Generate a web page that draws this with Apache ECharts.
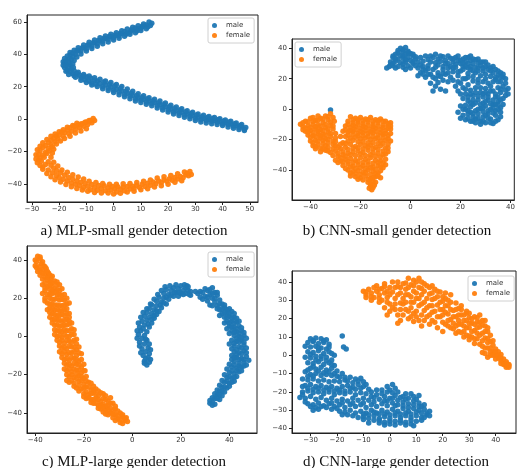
<!DOCTYPE html>
<html>
<head>
<meta charset="utf-8">
<script src="https://cdn.jsdelivr.net/npm/echarts@6/dist/echarts.min.js"></script>
<style>
html, body { margin: 0; padding: 0; background: #fff; }
#container { width: 518px; height: 468px; }
</style>
</head>
<body>
<div id="container"></div>
<script>
// tick labels
const xTicksA = [-30, -20, -10, 0, 10, 20, 30, 40, 50]
const yTicksA = [-40, -20, 0, 20, 40, 60]
const xTicksB = [-40, -20, 0, 20, 40]
const yTicksB = [-40, -20, 0, 20, 40]
const xTicksC = [-40, -20, 0, 20, 40]
const yTicksC = [-40, -20, 0, 20, 40]
const xTicksD = [-30, -20, -10, 0, 10, 20, 30, 40]
const yTicksD = [-40, -30, -20, -10, 0, 10, 20, 30, 40]

const seriesNames = ['male', 'female']
const captions = [
  'a) MLP-small gender detection',
  'b) CNN-small gender detection',
  'c) MLP-large gender detection',
  'd) CNN-large gender detection'
]

// a) MLP-small
const maleA = [[14,59.2],[13.5,57.8],[12,58.1],[12.5,56.9],[11,57.3],[10,56.0],[10.5,57.4],[9,55.8],[8,56.2],[8.5,54.4],[7,55.1],[6,53.6],[6.5,55.0],[5,53.2],[4,54.1],[4.5,52.4],[3,52.9],[2,51.3],[2.5,53.0],[1,51.8],[0,50.3],[0.5,52.0],[-1,50.9],[-2,49.3],[-1.5,51.1],[-3,49.8],[-4,48.1],[-3.5,50.0],[-5,48.4],[-6,46.6],[-5.5,48.6],[-7,47.2],[-8,45.0],[-7.5,47.1],[-9,45.9],[-10,43.4],[-9.5,45.6],[-11,44.1],[-12,42.0],[-11.5,44.0],[-13,42.5],[-14,40.0],[-13.5,42.1],[-15,40.8],[-15,38.3],[-16,39.6],[-16.5,37.2],[-15.5,36.8],[-17.5,36.0],[-16.5,35.0],[-18,34.5],[-16,33.8],[-17.5,33.0],[-16.5,32.2],[-18,31.8],[-15.5,31.0],[-17,30.2],[-16,29.3],[-14.5,29.8],[-15,28.0],[-13.5,28.2],[-14.5,26.8],[-12.5,27.1],[-12,25.5],[-11,26.6],[-10.5,24.2],[-10,26.0],[-9,23.6],[-8.5,25.4],[-8,22.3],[-7,24.2],[-6.5,21.6],[-6,23.5],[-5,22.0],[-4,20.2],[-3.5,22.8],[-3,21.0],[-2,19.1],[-1.5,21.5],[-1,19.8],[0,17.8],[0.5,20.6],[1,18.5],[2,16.6],[2.5,19.0],[3,17.3],[4,15.2],[4.5,17.2],[5,16.0],[6,14.1],[6.5,16.0],[7,14.8],[8,12.6],[8.5,14.6],[9,13.2],[10,11.6],[10.5,13.5],[11,12.2],[12,10.6],[12.5,12.6],[13,11.2],[14,9.6],[14.5,11.4],[15,10.2],[16,8.2],[16.5,10.1],[17,8.8],[18,7.0],[18.5,9.0],[19,7.6],[20,5.6],[20.5,7.6],[21,6.3],[22,4.6],[22.5,6.6],[23,5.2],[24,3.6],[24.5,5.6],[25,4.2],[26,2.6],[26.5,4.6],[27,3.2],[28,1.6],[28.5,3.5],[29,2.2],[30,0.5],[30.5,2.6],[31,1.2],[32,-0.4],[32.5,1.5],[33,0.3],[34,-0.9],[34.5,1.0],[35,-0.2],[36,-1.3],[36.5,0.4],[37,-0.8],[38,-1.9],[38.5,-0.2],[39,-1.4],[40,-2.8],[40.5,-1.2],[41,-2.3],[42,-3.3],[42.5,-1.8],[43,-3.0],[44,-4.2],[44.5,-2.8],[45,-3.9],[46,-5.2],[46.5,-3.9],[47,-4.8],[48,-6.2],[48.5,-5.2],
  [13,60],[11,58.8],[9,57.6],[7,56.8],[5,55.6],[3,54.6],[1,53.4],[-1,52.4],[-3,51.4],[-5,50.2],[-7,48.8],[-9,47.4],[-11,45.8],[-13,44.0],[-14.5,42.6],[-16,41.2],[-17,39.0],[-18,37.5],[-18.5,35.5],[-18.5,33.2],[-17.5,29.6],[-16.5,27.6],[-14,25.8],[-12,24.0],[-10,22.6],[-8,21.0],[-6,20.2],[-4,18.8],[-2,17.6],[0,16.4],[2,15.0],[4,13.8],[6,12.6],[8,11.2],[10,10.2],[12,9.2],[14,8.2],[16,6.8],[18,5.6],[20,4.4],[22,3.2],[24,2.2],[26,1.2],[28,0.2],[30,-0.8],[32,-1.8],[34,-2.4],[36,-2.8],[38,-3.4],[40,-4.0],[42,-4.8],[44,-5.6],[46,-6.4],[48,-7.0],
  [12,55.8],[10,54.8],[8,53.4],[6,52.4],[4,51.2],[2,50.0],[0,48.8],[-2,47.6],[-4,46.6],[-6,45.0],[-8,43.6],[-10,42.0],[-12,40.2],[-13.5,38.4],[-14.5,36.2],[-15,34.0],[-14.8,31.8],[-13,29.0],[-11,27.6],[-9,26.6],[-7,25.6],[-5,24.6],[-3,23.6],[-1,22.6],[1,21.4],[3,20.2],[5,18.6],[7,17.2],[9,15.6],[11,14.4],[13,13.2],[15,12.2],[17,11.2],[19,10.0],[21,8.6],[23,7.4],[25,6.4],[27,5.2],[29,4.2],[31,3.2],[33,2.4],[35,1.6],[37,1.0],[39,0.2],[41,-0.6],[43,-1.4],[45,-2.4],[47,-3.4]]
const femaleA = [[-7,-0.8],[-8,-2.2],[-8.5,-0.9],[-9.5,-3.4],[-10,-1.8],[-11,-4.4],[-11.5,-2.8],[-12.5,-5.2],[-13,-3.6],[-14,-6.3],[-14.5,-4.6],[-15.5,-7.5],[-16,-5.4],[-16.5,-9.0],[-17,-6.8],[-18,-8.2],[-18.5,-10.6],[-19,-7.9],[-20,-9.8],[-20.5,-12.2],[-21,-10.4],[-21.5,-14.0],[-22,-11.8],[-23,-13.2],[-23,-16.0],[-24,-14.4],[-24,-18.2],[-25,-16.3],[-25,-20.5],[-26,-17.6],[-26,-22.4],[-27,-19.6],[-27.5,-21.8],[-27,-24.0],[-26.5,-26.0],[-27.5,-25.2],[-25.5,-23.5],[-24.5,-21.2],[-23.5,-19.5],[-22.5,-17.0],[-25,-28.0],[-26,-29.6],[-24,-26.3],[-24,-31.5],[-23,-28.5],[-22.5,-33.2],[-22,-30.2],[-21,-34.8],[-21,-31.8],[-20,-36.0],[-19.5,-33.2],[-18.5,-37.2],[-18,-34.6],[-17,-38.3],[-16.5,-36.0],[-15.5,-39.5],[-15,-37.2],[-14,-40.2],[-13.5,-38.2],[-12.5,-41.0],[-12,-39.0],[-11,-42.3],[-10.5,-39.8],[-9.5,-41.4],[-8.5,-43.6],[-8,-40.4],[-7,-42.2],[-6,-44.0],[-5.5,-41.0],[-4.5,-42.8],[-3.5,-41.2],[-3,-44.3],[-2,-42.4],[-1,-43.8],[-0.5,-41.6],[0.5,-43.0],[1,-45.0],[1.5,-41.8],[2.5,-43.4],[3.5,-42.0],[4,-44.2],[5,-41.6],[6,-43.2],[7,-41.4],[7.5,-42.8],[8.5,-40.8],[9.5,-42.2],[10.5,-40.2],[11.5,-41.6],[12.5,-39.6],[13.5,-40.8],[14.5,-38.8],[15.5,-40.0],[16.5,-38.2],[17.5,-39.2],[18.5,-37.4],[19.5,-38.4],[20.5,-36.8],[21.5,-37.8],[22.5,-36.0],[23.5,-37.0],[24.5,-35.4],[25.5,-36.2],[26.5,-34.4],[27.5,-35.0],[28.5,-34.2],[27,-33.4],
  [-7.5,0.3],[-9,-0.8],[-10.5,-2.0],[-12,-3.0],[-13.5,-2.6],[-15,-4.0],[-17,-5.0],[-18.5,-6.6],[-20,-7.8],[-21.5,-9.2],[-23,-10.6],[-24.5,-12.6],[-26,-14.6],[-27,-16.8],[-28,-19.0],[-28.5,-22.0],[-28.5,-24.6],[-28,-27.0],[-27,-28.6],[-26,-31.0],[-24.5,-33.6],[-23,-35.6],[-21.5,-37.4],[-19.5,-38.8],[-17.5,-40.4],[-15.5,-41.8],[-13.5,-42.8],[-11.5,-43.8],[-9.5,-44.6],[-7,-45.4],[-4.5,-45.6],[-2,-45.6],[0,-46.2],[2.5,-45.8],[5,-45.0],[7.5,-44.6],[10,-43.6],[12.5,-43.0],[15,-42.0],[17.5,-41.2],[20,-40.2],[22.5,-39.0],[25,-38.0],
  [-10,-6.0],[-12,-7.4],[-14,-8.6],[-16,-10.6],[-18,-12.0],[-19.5,-13.6],[-21,-15.4],[-22,-18.6],[-22.5,-21.0],[-23,-23.6],[-22,-26.6],[-20.5,-29.0],[-19,-31.4],[-17,-32.8],[-15,-34.4],[-13,-35.8],[-11,-37.0],[-9,-38.4],[-6.5,-39.2],[-4,-39.8],[-1.5,-40.2],[1,-40.2],[3.5,-40.0],[6,-39.8],[8.5,-39.2],[11,-38.4],[13.5,-37.6],[16,-36.4],[18.5,-35.6],[21,-34.8],[23.5,-33.8],[26,-32.6],[28,-32.4]]

// b) CNN-small
const maleB = [[-4,40],[-2,40.5],[-3,38],[-5,38.5],[-1,38],[-6,36],[-4,35.5],[-2,36],[0,36.5],[-7,34],[-5,33],[-3,33.5],[-1,34],[1,35],[-8,31],[-6,31.5],[-4,30.5],[-2,31],[0,32],[2,33],[-8.5,28],[-9.5,27],[-7,28.5],[-5,28],[-3,27.5],[-1,28.5],[1,30],[3,31],[4,34],[6,35],[5,31.5],[7,32.5],[9,34],[11,33],[10,30.5],[12,31.5],[13,34.5],[14,32],[15,30],[16,33.5],[17,31],[18,34],[19,32],[20,30],[21,33],[22,31],[23,34],[24,32],[25,30],[26,32.5],[27,30.5],[28,28.5],[29,31],[24,28],[26,27.5],[3,27],[5,28],[4,24],[6,25.5],[7,28.5],[8,23],[9,26],[10,27.5],[11,24],[12,21.5],[13,26],[14,23],[15,27],[16,21],[17,24.5],[18,27.5],[19,22],[20,25],[21,28],[22,20],[23,23.5],[24,26],[25,21.5],[26,24],[27,27],[28,22],[29,25],[30,23],[30,20],[31,26],[32,21.5],[33,24],[34,19.5],[35,22.5],[36,18],[37,21],[33,18],[31,17],[6,21],[3,22],[8,17],[10,15],[12,13],[11,17.5],[14,12],[9,12],[18,15],[20,17],[19,12],[21,14],[22,10],[23,16],[24,12.5],[25,9],[26,14],[27,17],[28,11],[29,8],[30,13.5],[31,10],[32,15],[33,12],[34,8],[35,14],[36,11],[37,15],[38,12.5],[39,13.5],[37,7],[35,5],[33,3],[31,6],[29,4],[27,6],[25,3],[23,5.5],[21,7],[20,2],[22,0],[24,1.5],[26,-1],[28,0.5],[30,2],[32,0],[34,-1],[36,1],[37,3],[19,-2],[21,-4],[20,-6],[23,-3],[22,-7],[25,-5],[24,-8],[27,-3],[26,-6.5],[28,-8],[29,-5],[30,-9],[31,-3],[32,-6.5],[33,-9.5],[34,-4],[35,-7],[36,-2],[24,-2],[29,-1.5],[-32,-0.5],
  [-3,39],[-5,37],[-1,37],[-7,35],[-3,35],[1,36],[-6,33],[-2,32.5],[2,34.5],[-7,30],[-3,29.5],[1,31],[-8,29],[-6,27],[-2,26],[0,27],[2,28.5],[4,29],[5,26],[7,26.5],[8,31],[8,35],[10,36],[12,35],[11,29],[13,28],[14,30],[15,35],[16,28],[17,33],[18,29.5],[19,35],[20,32],[21,30],[22,34],[22,28],[23,30],[25,33],[24,35],[27,33],[28,31],[30,28],[30,31],[31,29],[32,27],[33,28],[34,26],[35,25],[36,24],[37,23],[38,20],[38,17],[36,21],[34,21],[32,25],[29,27],[27,25],[25,25],[23,27],[21,26],[19,24.5],[17,27],[15,24],[13,23.5],[11,22],[9,21],[7,23],[5,23],[10,20],[13,19],[15,18],[17,19],[19,18],[21,20],[23,21],[25,18.5],[27,19.5],[29,18],[35,18],[36,13],[38,9],[39,10],[34,10],[32,12],[30,11],[28,14],[26,11],[24,10],[22,13],[20,10],[23,8],[25,6],[27,8.5],[29,10],[31,8],[33,6],[35,8],[36,6],[34,3],[32,3.5],[30,5],[28,3],[26,4],[24,4],[22,2.5],[21,0],[23,-1],[25,-3],[27,0],[29,1],[31,-1],[33,1],[35,0],[35,3],[33,-2.5],[31,-6],[29,-8],[27,-6],[25,-8],[23,-6],[34,-8],[36,-5],[32,-9],[26,-9],[28,-10],[30,-4]]
const femaleB = [[-32,-3],[-34,-4.5],[-31,-5.5],[-36,-6],[-33,-7],[-38,-7.5],[-40,-6],[-42,-8],[-30.5,-8],[-35,-9],[-37,-10.5],[-39,-10],[-41,-11],[-43,-11.5],[-44,-10],[-32,-10.5],[-34,-12],[-36,-13.5],[-38,-13],[-40,-14],[-42,-14.5],[-31,-13],[-33,-15],[-35,-16.5],[-37,-16],[-39,-17.5],[-41,-17],[-30,-16],[-32,-18],[-34,-19.5],[-36,-19],[-38,-20.5],[-40,-21],[-37,-23],[-35,-22.5],[-33,-22],[-31,-21],[-39,-24],[-36,-25.5],[-33,-25],[-30,-24],[-28,-18],[-27,-22],[-24,-5],[-22,-6],[-20,-5.5],[-18,-6.5],[-16,-5.5],[-14,-7],[-12,-6.5],[-10,-8],[-8,-9],[-25,-8],[-23,-9],[-21,-8.5],[-19,-9.5],[-17,-8.5],[-15,-10],[-13,-9],[-11,-10.5],[-9,-11],[-26,-11],[-24,-12],[-22,-11.5],[-20,-12.5],[-18,-12],[-16,-13],[-14,-12.5],[-12,-13.5],[-10,-14],[-8,-13],[-27,-14.5],[-25,-15],[-23,-14.5],[-21,-16],[-19,-15.5],[-17,-16],[-15,-15.5],[-13,-17],[-11,-16.5],[-9,-17.5],[-26,-18],[-24,-19],[-22,-18.5],[-20,-19.5],[-18,-19],[-16,-20],[-14,-19.5],[-12,-21],[-10,-20.5],[-8,-21],[-38,-26],[-36,-28],[-34,-27],[-32,-28.5],[-30,-27.5],[-28,-26],[-26,-25],[-24,-23],[-22,-24.5],[-20,-23],[-18,-24],[-16,-23.5],[-14,-25],[-12,-24],[-10,-25.5],[-9,-28],[-31,-30.5],[-29,-31],[-27,-30],[-25,-29],[-23,-28],[-21,-27.5],[-19,-28.5],[-17,-27],[-15,-28.5],[-13,-29],[-11,-30],[-30,-33.5],[-28,-34],[-26,-33],[-24,-32.5],[-22,-33.5],[-20,-32],[-18,-33],[-16,-32],[-14,-33.5],[-12,-34],[-10,-33],[-27,-37],[-25,-36],[-23,-37.5],[-21,-36.5],[-19,-37],[-17,-36.5],[-15,-38],[-13,-37],[-11,-38.5],[-25,-40],[-23,-41],[-21,-40.5],[-19,-41.5],[-17,-40],[-15,-41],[-13,-42],[-12,-40.5],[-24,-44],[-22,-44.5],[-20,-45],[-18,-44],[-16,-45.5],[-14,-44.5],[-12,-45],[-17,-48],[-15,-47.5],[-16,-50.5],[-14.5,-50],[-15.5,-53],[-16.5,-52],
  [-43,-9],[-41,-8.5],[-39,-8],[-37,-7.5],[-35,-6.5],[-33,-5],[-42,-12.5],[-40,-12],[-38,-11.5],[-36,-11],[-34,-10],[-32,-8.5],[-43,-13.5],[-41,-15],[-39,-15.5],[-37,-14.5],[-35,-14],[-33,-13],[-31,-11],[-40,-18.5],[-38,-18],[-36,-17.5],[-34,-17],[-32,-16],[-30,-19],[-39,-22],[-37,-21],[-35,-20.5],[-33,-20],[-31,-23],[-29,-25],[-34,-24],[-38,-24.5],[-35,-26],[-33,-27.5],[-31,-26],[-29,-29],[-27,-28],[-25,-26.5],[-23,-25.5],[-21,-25.5],[-19,-26],[-17,-25],[-15,-26],[-13,-26.5],[-11,-27.5],[-10,-29.5],[-12,-31.5],[-14,-31],[-16,-30],[-18,-30.5],[-20,-29.5],[-22,-30.5],[-24,-30],[-26,-31],[-28,-32],[-29,-35],[-27,-34.5],[-25,-34.5],[-23,-35],[-21,-34.5],[-19,-35],[-17,-34.5],[-15,-35.5],[-13,-35],[-11,-35.5],[-10,-36.5],[-12,-38],[-14,-39.5],[-16,-38.5],[-18,-39],[-20,-38.5],[-22,-39],[-24,-38],[-26,-39],[-24,-42],[-22,-42.5],[-20,-43],[-18,-42],[-16,-43],[-14,-42.5],[-13,-44],[-21,-46],[-19,-46.5],[-17,-46],[-15,-45],[-16,-49],[-14,-48],[-15,-51.5],[-23,-7],[-21,-7],[-19,-7.5],[-17,-7],[-15,-8],[-13,-7.5],[-11,-8],[-9,-9.5],[-25,-10],[-23,-10.5],[-21,-10],[-19,-11],[-17,-10.5],[-15,-11.5],[-13,-11],[-11,-12],[-9,-12.5],[-8,-11],[-26,-13.5],[-24,-14],[-22,-13.5],[-20,-14.5],[-18,-14],[-16,-15],[-14,-14.5],[-12,-15.5],[-10,-16],[-8,-16],[-25,-17],[-23,-16.5],[-21,-17.5],[-19,-17.5],[-17,-18],[-15,-18],[-13,-19],[-11,-18.5],[-9,-19.5],[-25,-21],[-23,-20.5],[-21,-21.5],[-19,-21.5],[-17,-22],[-15,-22],[-13,-22.5],[-11,-22.5],[-9,-23],[-9,-25.5],[-26,-22.5],[-28,-23],[-30,-21.5],[-37,-4.5],[-39,-5.5]]

// c) MLP-large
const maleC = [[6,-15],[7,-13.5],[5,-13],[6.5,-11],[4.5,-10],[7,-9],[5.5,-8],[4,-6.5],[6.5,-6],[5,-4],[3,-3],[6,-2],[4,-1],[2.5,1],[5,0.5],[3.5,3],[6,2.5],[3,5],[5,6],[7,5],[4,8],[6,8.5],[8,7],[5,10.5],[7,10],[9,9.5],[6,12.5],[8,12],[10,11.5],[7,14.5],[9,14],[11,13],[8,16.5],[10,16],[12,15],[10,18.5],[12,18],[14,17],[11,20.5],[13,20],[15,19.5],[13,22.5],[15,22],[17,21],[14,24.5],[16,24],[18,23],[19,21],[17,25.5],[19,25],[21,24],[20,22.5],[22,25.5],[23,24],[22,22.5],[24,21.5],[22.5,26.5],[27,22.5],[28,20.5],[29,23],[30,21],[31,24],[32,22],[33,25.5],[34,23],[33,20],[35,21.5],[31,18.5],[34,18],[36,19],[32,16.5],[35,16],[37,17],[36,14],[38,15],[40,14.5],[37,12],[39,12.5],[41,13],[38,10],[40,10.5],[42,10],[39,8],[41,8],[43,7.5],[40,5.5],[42,5],[44,5.5],[41,3],[43,2.5],[45,3],[42,0.5],[44,0],[46,0.5],[41,-2],[43,-2.5],[45,-2],[42,-5],[44,-5.5],[46,-4.5],[42,-8],[44,-8.5],[46,-7.5],[43,-11],[45,-11.5],[47,-10.5],[42,-13],[44,-14],[46,-13.5],[41,-16],[43,-16.5],[45,-16],[47,-15],[40,-19],[42,-19.5],[44,-18.5],[39,-21.5],[41,-22],[43,-21],[38,-24],[40,-24.5],[42,-23.5],[37,-26.5],[39,-27],[36,-28.5],[38,-29],[35,-30.5],[37,-31],[34,-32.5],[36,-33],[33,-34.5],[32,-35],[34,-35.5],
  [5,-14],[7.5,-12],[5.5,-11.5],[3.5,-8.5],[7.5,-7],[3,-5],[7,-4],[2,-1],[5.5,-1.5],[2,3],[4.5,4],[2.5,7],[6.5,6.5],[3.5,10],[8,9],[4.5,12.5],[9,11],[6,14.5],[10,13.5],[7.5,17],[11.5,16.5],[9,19.5],[13,17.5],[10.5,22],[14,20.5],[12,24],[16,21.5],[13.5,26],[17.5,23],[15.5,26.5],[19.5,23],[18,27],[21,22],[20,26.5],[21.5,27],[23,26],[24,23.5],[23.5,22],
  [26,23.5],[28,23.5],[30,25],[32,24.5],[29,19.5],[31,20.5],[33,22.5],[35,23],[34,20],[36,17],[33,16],[35,14.5],[38,16.5],[37,14.5],[39,14],[36,11],[38,12.5],[40,12],[42,12],[39,10],[41,9.5],[43,9.5],[38,7],[40,7],[42,7],[44,8],[39,4],[41,5],[43,4],[45,4.5],[40,1.5],[42,2],[44,1.5],[46,2],[43,-1],[45,-0.5],[47,-1],[40,-4],[42,-3.5],[44,-3],[46,-3],[41,-6.5],[43,-7],[45,-6],[47,-6],[41,-10],[43,-9.5],[45,-9],[47,-8.5],[41,-12],[42,-11],[44,-12],[46,-12],[48,-12.5],[40,-14.5],[42,-15],[44,-15.5],[46,-15.5],[39,-17],[41,-18],[43,-18],[45,-18],[38,-20],[40,-21],[42,-21.5],[37,-23],[39,-23.5],[41,-24],[36,-25.5],[38,-26.5],[40,-26],[35,-28],[37,-28.5],[34,-30],[36,-30.5],[33,-32],[35,-32.5],[32,-33.5],[33,-36]]
const femaleC = [[-39,42],[-38,40.5],[-39.5,39],[-37.5,38],[-38.5,36.5],[-36.5,37],[-37,35],[-39,34],[-35.5,35.5],[-36,33],[-38,32],[-34.5,33],[-35,31],[-37,30],[-33.5,30.5],[-36,28],[-34,28.5],[-32,29],[-35,26],[-33,26.5],[-31,27],[-36,24],[-34,24.5],[-32,25],[-30,24],[-35,22],[-33,22.5],[-31,22],[-29,21.5],[-34,20],[-32,19.5],[-30,19],[-28,19],[-35,17.5],[-33,17],[-31,16.5],[-29,16],[-27,17],[-34,15],[-32,14],[-30,13.5],[-28,14],[-33,12],[-31,11],[-29,11.5],[-27,12],[-33,9],[-31,8.5],[-29,8],[-27,9],[-26,10],[-32,6],[-30,5.5],[-28,6],[-26,6.5],[-31,3],[-29,2.5],[-27,3],[-25,4],[-31,0],[-29,-0.5],[-27,0],[-25,1],[-30,-3],[-28,-3.5],[-26,-2.5],[-24,-2],[-23,-4],[-29,-6],[-27,-6.5],[-25,-5.5],[-23,-7],[-29,-9],[-27,-9.5],[-25,-8.5],[-23,-10],[-21,-9],[-28,-12],[-26,-12.5],[-24,-11.5],[-22,-13],[-27,-15],[-25,-15.5],[-23,-14.5],[-21,-16],[-27,-18],[-25,-18.5],[-23,-17.5],[-21,-19],[-19.5,-18],[-26,-21],[-24,-21.5],[-22,-20.5],[-20,-22],[-26,-24],[-24,-24.5],[-22,-23.5],[-20,-25],[-18,-24],[-16,-26],[-23,-27],[-21,-27.5],[-19,-26.5],[-17,-28],[-15,-27.5],[-20,-30],[-18,-30.5],[-16,-29.5],[-14,-31],[-12,-30],[-19,-32.5],[-17,-33],[-15,-32.5],[-13,-34],[-11,-33],[-9,-32],[-16,-35],[-14,-36],[-12,-35.5],[-10,-36],[-8,-35],[-13,-38],[-11,-38.5],[-9,-37.5],[-7,-38],[-11,-40.5],[-9,-40],[-7,-41],[-5,-40],[-8,-42.5],[-6,-43],[-4,-42],[-3,-44],[-5,-45],[-2.5,-42.5],
  [-40,40],[-38,41.5],[-40,37],[-37,39],[-39.5,36],[-36,36.5],[-38,34.5],[-35,34],[-37,33],[-34,32],[-36,31],[-33,31.5],[-35,29.5],[-33,28],[-31,28.5],[-37,27],[-34,27],[-30,27],[-36,25.5],[-33,24],[-31,24.5],[-29,25],[-37,22.5],[-34,22],[-32,23],[-30,22],[-28,22],[-36,20],[-33,19.5],[-31,20],[-29,19.5],[-27,20],[-36,18.5],[-34,17],[-32,16.5],[-30,16],[-28,16.5],[-26,17.5],[-35,14],[-33,14.5],[-31,14],[-29,13.5],[-27,14.5],[-34,12.5],[-32,11.5],[-30,11],[-28,11],[-26,12],[-34,10],[-32,9],[-30,8.5],[-28,8.5],[-26,8],[-33,7],[-31,6],[-29,5.5],[-27,6],[-25,7],[-32,3.5],[-30,3],[-28,3.5],[-26,3],[-24,3.5],[-32,1],[-30,0.5],[-28,1],[-26,0],[-24,1],[-31,-2],[-29,-2],[-27,-2],[-25,-3],[-23,-1.5],[-30,-5],[-28,-5.5],[-26,-5],[-24,-5.5],[-22,-5.5],[-30,-8],[-28,-8],[-26,-8.5],[-24,-8],[-22,-8.5],[-29,-11],[-27,-11.5],[-25,-11],[-23,-12],[-21,-12],[-28,-14],[-26,-14.5],[-24,-14],[-22,-15],[-20,-14.5],[-28,-17],[-26,-17],[-24,-17],[-22,-17.5],[-20,-18],[-27,-20],[-25,-20],[-23,-19.5],[-21,-21],[-19,-21],[-27,-23],[-25,-23],[-23,-22],[-21,-23],[-19,-23.5],[-17,-24.5],[-24,-26],[-22,-25.5],[-20,-27],[-18,-26.5],[-16,-28],[-14,-28.5],[-22,-28.5],[-19,-29],[-17,-30],[-15,-30.5],[-13,-29.5],[-11,-31],[-20,-31.5],[-18,-32],[-16,-33],[-14,-33],[-12,-32.5],[-10,-34],[-17,-34.5],[-15,-35],[-13,-36],[-11,-36.5],[-9,-35],[-7,-36.5],[-14,-37.5],[-12,-37],[-10,-38.5],[-8,-39],[-6,-39],[-12,-39.5],[-10,-41],[-8,-40.5],[-6,-41.5],[-4,-41],[-7,-44],[-5,-43.5],[-3,-43],[-4,-45.5],[-2,-44.5]]

// d) CNN-large
const maleD = [[-30,9],[-28,9.5],[-26,9],[-24,8.5],[-31,7],[-29,7.5],[-27,6.5],[-25,7],[-23,6],[-32,5],[-30,4.5],[-28,5],[-26,4],[-24,3.5],[-31,2],[-29,1.5],[-27,2.5],[-25,1],[-23,2],[-21,0],[-32,-1],[-30,-1.5],[-28,-0.5],[-26,-2],[-24,-1],[-22,-2.5],[-31,-4],[-29,-4.5],[-27,-3.5],[-25,-5],[-23,-4],[-21,-5.5],[-30,-7],[-28,-7.5],[-26,-6.5],[-24,-8],[-22,-7],[-20,-8.5],[-32,-9],[-30,-10.5],[-28,-10],[-26,-11],[-24,-10.5],[-22,-11],[-20,-11.5],[-18,-10],[-18,10.5],[-17.5,4.5],[-16.5,3.5],[-33,-13],[-31,-13.5],[-29,-13],[-27,-14],[-25,-13.5],[-23,-14.5],[-21,-14],[-19,-14.5],[-17,-13.5],[-15,-12],[-13,-13],[-11,-12.5],[-32,-16.5],[-30,-16],[-28,-17],[-26,-16.5],[-24,-17.5],[-22,-17],[-20,-18],[-18,-17],[-16,-16.5],[-14,-17.5],[-12,-16],[-10,-17],[-33,-20],[-31,-19.5],[-29,-20.5],[-27,-20],[-25,-21],[-23,-20],[-21,-21.5],[-19,-20.5],[-17,-21],[-15,-20],[-13,-21.5],[-11,-20.5],[-9,-21],[-7,-20],[-5,-21.5],[-3,-19],[-1,-17],[1,-16],[0,-19],[2,-18],[-34,-23],[-32,-23.5],[-30,-22.5],[-28,-24],[-26,-23],[-24,-24.5],[-22,-23.5],[-20,-25],[-18,-24],[-16,-25],[-14,-23.5],[-12,-24.5],[-10,-23.5],[-8,-24.5],[-6,-23],[-4,-24],[-2,-22.5],[0,-23.5],[2,-22],[4,-23],[6,-21],[8,-21],[-31,-26.5],[-29,-27],[-27,-26],[-25,-27.5],[-23,-26.5],[-21,-28],[-19,-27],[-17,-28.5],[-15,-27],[-13,-28],[-11,-27],[-9,-28.5],[-7,-27],[-5,-28],[-3,-26.5],[-1,-27.5],[1,-26],[3,-27],[5,-25.5],[7,-26.5],[9,-25],[11,-26],[12,-28],[-29,-30],[-27,-29.5],[-19,-30.5],[-17,-31],[-15,-30],[-13,-31.5],[-11,-30.5],[-9,-31.5],[-7,-30],[-5,-31.5],[-3,-30],[-1,-31],[1,-29.5],[3,-30.5],[5,-29],[7,-30.5],[9,-29],[11,-30],[13,-29.5],[15,-30.5],[-12,-34],[-10,-33.5],[-8,-34.5],[-6,-33],[-4,-34.5],[-2,-33.5],[0,-34.5],[2,-33],[4,-34],[6,-33],[8,-34],[10,-33],[12,-34],[14,-32.5],[-4,-37],[-2,-36.5],[0,-37.5],[2,-36],[4,-37],[6,-36.5],[8,-37.5],[10,-36],[12,-35.5],[-8,-37],
  [-29,8],[-25,8],[-27,4],[-23,4.5],[-22,1],[-30,0.5],[-26,-0.5],[-24,-3],[-22,-5],[-28,-2.5],[-29,-6],[-27,-8.5],[-25,-9.5],[-23,-9],[-21,-10],[-31,-8],[-31,-11.5],[-29,-11.5],[-19,-12],[-17,-12],[-16,-14],[-14,-15],[-12,-14],[-10,-14.5],[-9,-16],[-33,-17],[-31,-18],[-29,-18.5],[-27,-18],[-25,-19],[-23,-18.5],[-21,-19.5],[-19,-19],[-17,-19.5],[-15,-18],[-13,-18.5],[-11,-18],[-8,-18.5],[-7,-22.5],[-5,-19],[-3,-21],[-1,-20],[1,-20.5],[3,-20],[5,-22.5],[7,-23.5],[9,-22.5],[-1,-25],[1,-23.5],[3,-24.5],[5,-27.5],[7,-28.5],[9,-27],[11,-28],[13,-27],[14,-31.5],[12,-31.5],[10,-31],[8,-32],[6,-31.5],[4,-32],[2,-31.5],[0,-32.5],[-2,-32],[-4,-32],[-6,-31],[-8,-32.5],[-10,-32],[-14,-33],[-16,-32.5],[-18,-32.5],[-20,-29],[-22,-29.5],[-24,-28.5],[-26,-28],[-28,-28.5],[-30,-28],[-32,-25.5],[-33,-21.5],[-22,-26],[-18,-26],[-14,-26],[-10,-26],[-6,-25.5],[-2,-25],[2,-27.5],[6,-24],[10,-24],[11,-22],[8,-35.5],[4,-35.5],[0,-36],[-4,-35.5],[-6,-35.5],[-10,-35],[-2,-38],[2,-38],[6,-38],[9,-38.5],[13,-34],[15,-33]]
const femaleD = [[-10,35],[-9,33],[-8,36],[-7,34],[-6,31.5],[-5,35],[-5,38],[-4,33],[-3,36.5],[-3,30],[-2,39],[-2,34],[-1,31.5],[0,37],[0,28],[1,34.5],[1,40],[2,31],[2,25],[3,37.5],[3,22],[4,34],[4,28.5],[5,39],[5,31],[6,25],[6,36],[7,42],[7,33],[7,20],[8,29],[8,38.5],[9,23],[9,35],[10,31],[10,40],[11,27],[11,19],[12,36.5],[12,33],[13,24.5],[13,29],[14,38],[14,21],[15,33.5],[15,27],[16,30.5],[16,23.5],[17,36],[17,18],[18,27.5],[18,32],[19,21],[19,34.5],[20,25],[20,29.5],[21,17],[21,31],[22,22.5],[22,27],[23,19.5],[23,33],[24,24.5],[24,14.5],[25,28.5],[25,21],[26,17],[26,25.5],[27,12.5],[27,22],[28,19],[27,27],[29,15],[29,23],[30,10.5],[30,20.5],[31,17.5],[29,24],[32,13.5],[32,21],[33,9],[33,18],[34,15.5],[34,22],[34,6],[35,12],[35,19],[36,9.5],[36,16],[37,4],[37,13],[38,7.5],[38,11],[39,2],[39,5.5],[40,0],[40,3.5],[41,-1.5],[41,2],[42,-3],[42,0.5],[43,-4.5],[43,-2],[44,-5.5],[44,-3.5],[45,-6.5],[45,-5],[36,4],[35,1.5],[38,0],[37,-1],[32,6.5],[30,8.5],[28,10],[25,12],[23,15],[20,13],[18,15],[15,17],[12,16],[9,18.5],[4,19],[0,24],[-2,26],[-4,29],[-7,30],[-9,31.5],[-1,22],[3,17.5],[21,34],[16,38],[13,39],[11,42],[9,41],
  [-9,34.5],[-7,32],[-6,37],[-4,36],[-4,31],[-2,37.5],[-1,35],[-1,29],[0,33],[1,26],[2,37],[2,28],[3,33],[3,40],[4,25],[4,37],[5,28],[5,22],[6,33],[6,39.5],[6,29],[7,37],[7,24],[8,32],[8,26],[8,21],[9,38],[9,29],[10,34],[10,24],[10,21],[11,37],[11,31],[12,28],[12,22],[12,40],[13,35],[13,19],[14,31],[14,26],[15,37],[15,22],[16,34],[16,27],[16,19],[17,31],[17,24],[18,35],[18,21],[19,29],[19,25],[20,32],[20,18],[20,22],[21,27],[21,23.5],[22,30],[22,16],[22,19],[23,25],[23,29],[24,21],[24,17.5],[25,25],[25,16],[26,22],[26,13],[26,19],[27,17],[27,25],[28,16],[28,22],[28,13],[29,19],[29,11],[30,15],[30,23],[30,17.5],[31,13],[31,20],[31,10],[32,17],[32,9],[33,15],[33,12],[33,20.5],[34,18],[34,11],[35,16.5],[35,8],[35,5],[36,13],[36,1],[36,19],[37,9],[37,7],[37,15],[38,4],[38,2],[39,8],[39,0],[40,2],[40,-2],[41,0],[42,-1.5],[43,-5],[44,-4.5],[44,-6.5],[45,-5.5],[42,-4.5]]

// 绘制图表
function initChart() {
  const myChart = echarts.init(document.getElementById('container'), null, { renderer: 'canvas' })

  const grids = [
    { left: 27, top: 15, width: 231, height: 187 },
    { left: 292, top: 39, width: 223, height: 161 },
    { left: 27, top: 246, width: 230, height: 187 },
    { left: 292, top: 271, width: 224, height: 162 }
  ]
  const xRanges = [[-31.8, 53], [-47.4, 41.5], [-43.4, 51.4], [-37, 47.7]]
  const yRanges = [[-51.2, 64.3], [-59.7, 46.1], [-50.5, 47.3], [-42.4, 46]]
  const xTicks = [xTicksA, xTicksB, xTicksC, xTicksD]
  const yTicks = [yTicksA, yTicksB, yTicksC, yTicksD]
  const males = [maleA, maleB, maleC, maleD]
  const females = [femaleA, femaleB, femaleC, femaleD]
  const legendPos = [[208, 18], [295, 42], [208, 252], [468, 276]]
  const captionPos = [[134, 231], [397, 231], [134, 462], [396, 462]]

  const minus = v => String(v).replace('-', '\u2212')

  const makeAxis = (i, isX) => {
    const range = isX ? xRanges[i] : yRanges[i]
    const ticks = isX ? xTicks[i] : yTicks[i]
    return {
      type: 'value',
      gridIndex: i,
      min: range[0],
      max: range[1],
      axisLine: { show: true, onZero: false, lineStyle: { color: '#222', width: 1 } },
      axisTick: { show: true, length: 3, customValues: ticks, lineStyle: { color: '#222' } },
      axisLabel: {
        customValues: ticks,
        formatter: minus,
        fontFamily: 'DejaVu Sans',
        fontSize: 7,
        color: '#333',
        margin: isX ? 4 : 5
      },
      splitLine: { show: false }
    }
  }

  const series = []
  for (let i = 0; i < 4; i++) {
    series.push({
      name: seriesNames[0], type: 'scatter', xAxisIndex: i, yAxisIndex: i,
      data: males[i], symbolSize: 5.5, itemStyle: { color: '#1f77b4', opacity: 0.95 }
    })
    series.push({
      name: seriesNames[1], type: 'scatter', xAxisIndex: i, yAxisIndex: i,
      data: females[i], symbolSize: 5.5, itemStyle: { color: '#ff7f0e', opacity: 0.95 }
    })
  }

  myChart.setOption({
    animation: false,
    backgroundColor: '#fff',
    grid: grids.map(g => Object.assign({ show: true, borderColor: '#222', borderWidth: 1, backgroundColor: '#fff' }, g)),
    xAxis: [0, 1, 2, 3].map(i => makeAxis(i, true)),
    yAxis: [0, 1, 2, 3].map(i => makeAxis(i, false)),
    legend: legendPos.map(p => ({
      data: seriesNames,
      orient: 'vertical',
      left: p[0],
      top: p[1],
      icon: 'circle',
      itemWidth: 5,
      itemHeight: 5,
      itemGap: 1,
      padding: [3, 4, 3, 4],
      backgroundColor: '#fff',
      borderColor: '#d0d0d0',
      borderWidth: 1,
      borderRadius: 2,
      selectedMode: false,
      textStyle: { fontFamily: 'DejaVu Sans', fontSize: 7, lineHeight: 9, color: '#333', padding: [0, 0, 0, 4] }
    })),
    graphic: captions.map((t, i) => ({
      type: 'text',
      x: captionPos[i][0],
      y: captionPos[i][1],
      style: {
        text: t,
        fontFamily: 'Liberation Serif',
        fontSize: 15,
        fill: '#111',
        textAlign: 'center',
        textVerticalAlign: 'middle'
      }
    })),
    series: series
  })
}

initChart()
</script>
</body>
</html>
